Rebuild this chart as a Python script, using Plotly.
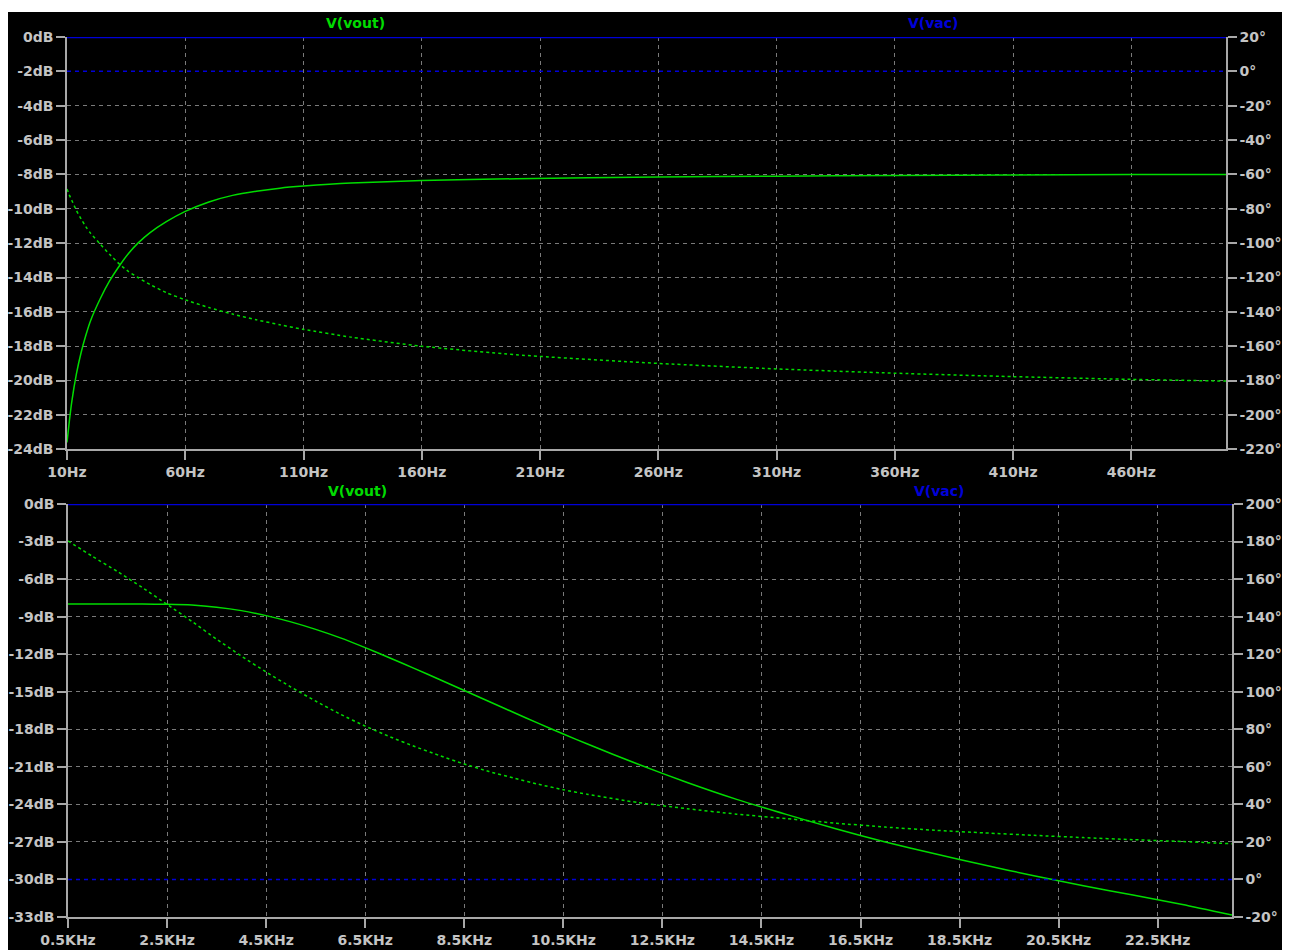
import plotly.graph_objects as go

# ---------------- data ----------------
# top pane: 10 Hz .. 500 Hz
f_top = [10, 11, 12, 14, 16, 18, 20, 24, 28, 32.4, 36, 40, 45, 52, 60, 70, 80, 90,
         100, 110, 130, 160, 200, 260, 310, 360, 410, 460, 500]
mag_top = [-23.6, -22.35, -21.25, -19.6, -18.35, -17.35, -16.5, -15.25, -14.2, -13.27,
           -12.6, -12.0, -11.4, -10.75, -10.15, -9.6, -9.22, -8.98, -8.8, -8.68, -8.5,
           -8.36, -8.25, -8.15, -8.1, -8.06, -8.03, -8.01, -8.0]
ph_top = [-68.5, -72.0, -75.0, -81.0, -86.0, -90.5, -94.3, -100.5, -106.5, -112.5, -116.5,
          -120.0, -124.0, -128.8, -133.0, -137.5, -141.3, -144.6, -147.5, -150.2, -154.7,
          -160.0, -165.0, -170.0, -173.2, -175.7, -177.7, -179.3, -180.3]

# bottom pane: 0.5 kHz .. 24 kHz
f_bot = [0.5, 1, 1.5, 2, 2.5, 3, 3.5, 4, 4.5, 5, 5.5, 6, 6.5, 7, 7.5, 8, 8.5, 9, 9.5, 10,
         10.5, 11, 12, 13, 14, 15, 16, 17, 18, 19, 20, 21, 22, 23, 24]
mag_bot = [-8.0, -8.0, -8.0, -8.0, -8.02, -8.08, -8.25, -8.52, -8.92, -9.42, -10.02, -10.7,
           -11.48, -12.3, -13.15, -14.02, -14.9, -15.78, -16.66, -17.53, -18.38, -19.2,
           -20.78, -22.25, -23.6, -24.8, -25.95, -27.0, -27.95, -28.85, -29.7, -30.5,
           -31.25, -32.0, -32.85]
ph_bot = [180.3, 172.0, 164.0, 155.5, 146.5, 137.5, 128.0, 119.0, 110.5, 102.5, 95.0, 88.0,
          81.7, 76.0, 70.8, 66.0, 61.5, 57.5, 54.0, 50.7, 47.8, 45.3, 41.0, 37.7, 34.8,
          32.4, 30.0, 27.9, 26.2, 24.8, 23.5, 22.3, 21.2, 20.2, 19.0]

# V(vac) reference trace: 0 dB, 0 deg
vac_f_top = [10, 500]
vac_f_bot = [0.5, 24]
vac_mag = [0, 0]
vac_ph = [0, 0]

# ticks
xt_top = [10, 60, 110, 160, 210, 260, 310, 360, 410, 460]
xt_top_txt = [f"{v}Hz" for v in xt_top]
xt_bot = [0.5, 2.5, 4.5, 6.5, 8.5, 10.5, 12.5, 14.5, 16.5, 18.5, 20.5, 22.5]
xt_bot_txt = [f"{v}KHz" for v in xt_bot]
yt_top = list(range(0, -25, -2))
yt_top_txt = [f"{v}dB" for v in yt_top]
y2t_top = list(range(20, -221, -20))
y2t_top_txt = [f"{v}\u00b0" for v in y2t_top]
yt_bot = list(range(0, -34, -3))
yt_bot_txt = [f"{v}dB" for v in yt_bot]
y2t_bot = list(range(200, -21, -20))
y2t_bot_txt = [f"{v}\u00b0" for v in y2t_bot]

# ---------------- style ----------------
GREEN = "#00dc00"
BLUE = "#0000d8"
AX = "#a8a8a8"
GRID = "#7a7a7a"
TXT = "#c4c4c4"
FAM = "DejaVu Sans, Liberation Sans, sans-serif"
FONT = dict(family=FAM, size=14, color=TXT, weight="bold")

OFF = 8  # page offset of the figure (body margin)
W, H = 1290 - 2 * OFF, 950 - OFF
L, R, T, B = 59, 50, 29, 33
PW, PH = W - L - R, H - T - B


def px(x):  # page pixel -> paper x
    return (x - OFF - L) / PW


def py(y):  # page pixel -> paper y
    return 1 - (y - OFF - T) / PH


fig = go.Figure()

# top pane
fig.add_trace(go.Scatter(x=vac_f_top, y=vac_mag, xaxis="x", yaxis="y", mode="lines",
                         line=dict(color=BLUE, width=2.5), hoverinfo="skip"))
fig.add_trace(go.Scatter(x=vac_f_top, y=vac_ph, xaxis="x", yaxis="y2", mode="lines",
                         line=dict(color=BLUE, width=1.5, dash="4px,4px"), hoverinfo="skip"))
fig.add_trace(go.Scatter(x=f_top, y=mag_top, xaxis="x", yaxis="y", mode="lines",
                         line=dict(color=GREEN, width=1.5, shape="spline", smoothing=0.6)))
fig.add_trace(go.Scatter(x=f_top, y=ph_top, xaxis="x", yaxis="y2", mode="lines",
                         line=dict(color=GREEN, width=1.5, dash="3px,3px", shape="spline",
                                   smoothing=0.6)))

# bottom pane
fig.add_trace(go.Scatter(x=vac_f_bot, y=vac_mag, xaxis="x2", yaxis="y3", mode="lines",
                         line=dict(color=BLUE, width=2.5), hoverinfo="skip"))
fig.add_trace(go.Scatter(x=vac_f_bot, y=vac_ph, xaxis="x2", yaxis="y4", mode="lines",
                         line=dict(color=BLUE, width=1.5, dash="4px,4px"), hoverinfo="skip"))
fig.add_trace(go.Scatter(x=f_bot, y=mag_bot, xaxis="x2", yaxis="y3", mode="lines",
                         line=dict(color=GREEN, width=1.5, shape="spline", smoothing=0.6)))
fig.add_trace(go.Scatter(x=f_bot, y=ph_bot, xaxis="x2", yaxis="y4", mode="lines",
                         line=dict(color=GREEN, width=1.5, dash="3px,3px", shape="spline",
                                   smoothing=0.6)))

common = dict(showline=True, linecolor=AX, linewidth=1.5, ticks="outside", ticklen=9,
              tickcolor=AX, tickwidth=1.5, tickfont=FONT, zeroline=False, fixedrange=True,
              tickmode="array", automargin=False)
grid = dict(showgrid=True, gridcolor=GRID, gridwidth=1, griddash="4px,4px")

LBL = dict(family=FAM, size=14, weight="bold")

fig.update_layout(
    width=W, height=H,
    margin=dict(l=L, r=R, t=T, b=B, pad=0, autoexpand=False),
    paper_bgcolor="black",
    plot_bgcolor="black",
    showlegend=False,
    xaxis=dict(domain=[0, px(1226)], range=[10, 500], anchor="y",
               tickvals=xt_top, ticktext=xt_top_txt, **common, **grid),
    yaxis=dict(domain=[py(449.3), 1], range=[-24, 0], anchor="x",
               tickvals=yt_top, ticktext=yt_top_txt, **common, **grid),
    yaxis2=dict(range=[-220, 20], overlaying="y", side="right", anchor="x",
                tickvals=y2t_top, ticktext=y2t_top_txt, showgrid=False, **common),
    xaxis2=dict(domain=[px(68), 1], range=[0.5, 24], anchor="y3",
                tickvals=xt_bot, ticktext=xt_bot_txt, **common, **grid),
    yaxis3=dict(domain=[0, py(504)], range=[-33, 0], anchor="x2",
                tickvals=yt_bot, ticktext=yt_bot_txt, **common, **grid),
    yaxis4=dict(range=[-20, 200], overlaying="y3", side="right", anchor="x2",
                tickvals=y2t_bot, ticktext=y2t_bot_txt, showgrid=False, **common),
    shapes=[
        dict(type="rect", xref="paper", yref="paper", x0=px(0), x1=px(1300),
             y0=py(12), y1=py(0), fillcolor="white", line=dict(width=0), layer="below"),
    ],
    annotations=[
        dict(text="V(vout)", x=px(355), y=py(23), xref="paper", yref="paper",
             xanchor="center", yanchor="middle", showarrow=False,
             font=dict(**LBL, color=GREEN)),
        dict(text="V(vac)", x=px(933), y=py(23), xref="paper", yref="paper",
             xanchor="center", yanchor="middle", showarrow=False,
             font=dict(**LBL, color=BLUE)),
        dict(text="V(vout)", x=px(357), y=py(491), xref="paper", yref="paper",
             xanchor="center", yanchor="middle", showarrow=False,
             font=dict(**LBL, color=GREEN)),
        dict(text="V(vac)", x=px(939), y=py(491), xref="paper", yref="paper",
             xanchor="center", yanchor="middle", showarrow=False,
             font=dict(**LBL, color=BLUE)),
    ],
)

fig.write_html("out.html")
